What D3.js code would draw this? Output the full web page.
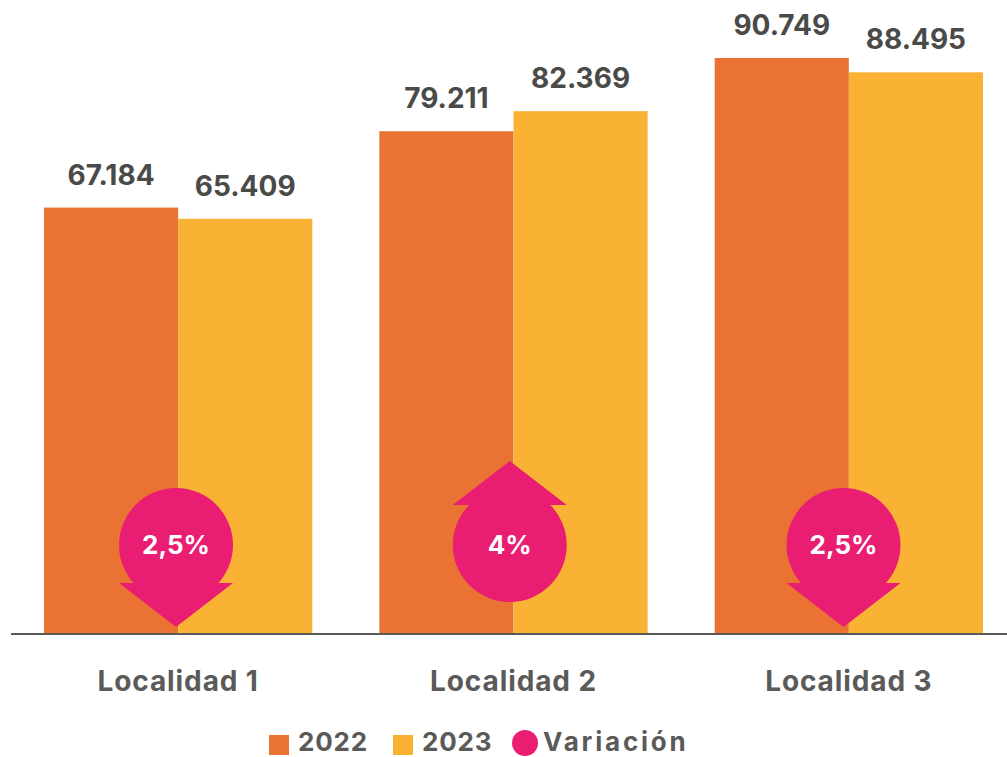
<!DOCTYPE html>
<html lang="es">
<head>
<meta charset="utf-8">
<title>Localidades</title>
<script src="https://d3js.org/d3.v7.min.js"></script>
<style>
  html, body { margin: 0; padding: 0; background: #fff; }
  svg { display: block; }
  text { font-family: Inter, "Noto Sans", sans-serif; font-weight: 700; }
</style>
</head>
<body>
<div id="chart"></div>
<script>
var categories = ["Localidad 1", "Localidad 2", "Localidad 3"];
var years = ["2022", "2023"];
var values2022 = [67184, 79211, 90749];
var values2023 = [65409, 82369, 88495];
var variation = ["2,5%", "4%", "2,5%"];
var direction = ["down", "up", "down"];
var legendLabel = "Variación";

var width = 1007, height = 757, baseline = 634;
var colors = { "2022": "#ea7233", "2023": "#f9b233" };
var pink = "#e91e73", grey = "#5a5a59", dark = "#4a4a49";

var svg = d3.select("#chart").append("svg")
  .attr("width", width)
  .attr("height", height);

var x0 = d3.scaleBand().domain(categories).range([10.5, 1016.5]).paddingInner(0.2).paddingOuter(0.1);
var x1 = d3.scaleBand().domain(years).range([0, x0.bandwidth()]);
var y = d3.scaleLinear().domain([0, 90749]).range([baseline, 58]);
// the markers do not sit exactly on the group centres
var xMark = d3.scalePoint().domain(categories).range([176, 843.5]);

var rows = [];
categories.forEach(function(c, i) {
  rows.push({ cat: c, year: "2022", value: values2022[i] });
  rows.push({ cat: c, year: "2023", value: values2023[i] });
});

svg.selectAll("rect.bar").data(rows).enter().append("rect")
  .attr("class", "bar")
  .attr("x", function(d) { return x0(d.cat) + x1(d.year); })
  .attr("y", function(d) { return y(d.value); })
  .attr("width", x1.bandwidth())
  .attr("height", function(d) { return baseline - y(d.value); })
  .attr("fill", function(d) { return colors[d.year]; });

// value labels, thousands with a dot
svg.selectAll("text.value").data(rows).enter().append("text")
  .attr("class", "value")
  .attr("x", function(d) { return x0(d.cat) + x1(d.year) + x1.bandwidth() / 2; })
  .attr("y", function(d) { return y(d.value) - 23; })
  .attr("text-anchor", "middle")
  .attr("font-size", 28)
  .attr("fill", dark)
  .text(function(d) { return d3.format(",")(d.value).replace(",", "."); });

// axis
var axis = svg.append("g")
  .attr("transform", "translate(0," + baseline + ")")
  .call(d3.axisBottom(x0).tickSize(0).tickPadding(37));
axis.select(".domain").remove();
axis.selectAll("text")
  .attr("font-size", 28)
  .attr("fill", grey)
  .style("font-family", "Inter, 'Noto Sans', sans-serif")
  .style("font-weight", 700)
  .style("letter-spacing", "0.9px");
svg.append("line")
  .attr("x1", 11).attr("x2", width)
  .attr("y1", baseline).attr("y2", baseline)
  .attr("stroke", grey).attr("stroke-width", 2);

// variation markers
var r = 57;
var mark = svg.selectAll("g.mark").data(categories).enter().append("g")
  .attr("class", "mark")
  .attr("transform", function(c) {
    return "translate(" + xMark(c) + ",545)";
  });
mark.append("circle").attr("r", r).attr("fill", pink);
mark.append("path")
  .attr("fill", pink)
  .attr("d", function(c, i) {
    return direction[i] == "down"
      ? "M" + (-r) + ",38L" + r + ",38L0,82Z"
      : "M" + (-r) + ",-40L" + r + ",-40L0,-84Z";
  });
mark.append("text")
  .attr("y", 9)
  .attr("text-anchor", "middle")
  .attr("font-size", 26)
  .attr("fill", "#fff")
  .text(function(c, i) { return variation[i]; });

// legend
var legendX = [269, 393];
years.forEach(function(yr, i) {
  svg.append("rect")
    .attr("x", legendX[i]).attr("y", 735)
    .attr("width", 20).attr("height", 20)
    .attr("fill", colors[yr]);
  svg.append("text")
    .attr("x", legendX[i] + 29).attr("y", 750.5)
    .attr("font-size", 26)
    .attr("fill", grey)
    .style("letter-spacing", "0.8px")
    .text(yr);
});
svg.append("circle").attr("cx", 525).attr("cy", 743).attr("r", 13).attr("fill", pink);
svg.append("text")
  .attr("x", 543).attr("y", 750.5)
  .attr("font-size", 26)
  .attr("fill", grey)
  .style("letter-spacing", "2.8px")
  .text(legendLabel);
</script>
</body>
</html>
